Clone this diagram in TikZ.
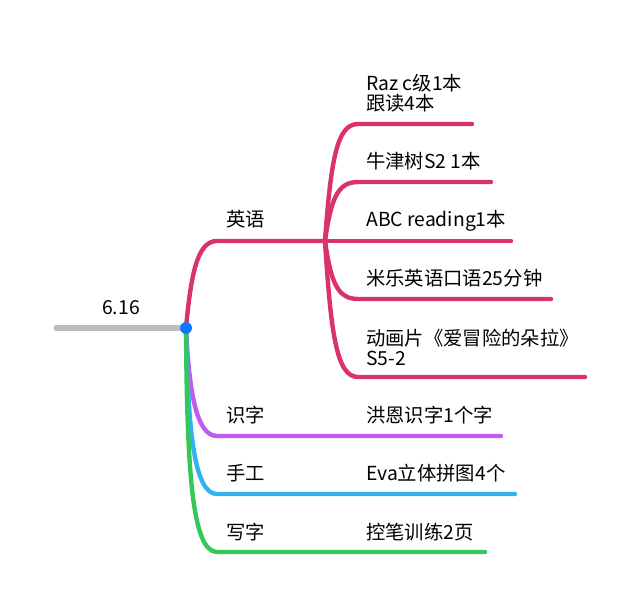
\documentclass[tikz,border=0pt]{standalone}
\usepackage{fontspec}
\setmainfont{Noto Sans CJK SC}
\definecolor{rootgray}{RGB}{190,190,190}
\definecolor{dotblue}{RGB}{12,122,255}
\definecolor{enpink}{RGB}{216,51,106}
\definecolor{shipurple}{RGB}{191,90,242}
\definecolor{craftcyan}{RGB}{50,178,240}
\definecolor{writegreen}{RGB}{52,199,89}

\begin{document}
\begin{tikzpicture}[x=0.75pt, y=-0.75pt,
  bough/.style={line width=3.3pt, line cap=round},
  leaf/.style={anchor=base west, inner sep=0pt, align=left, font=\fontsize{14.5}{15}\selectfont}]
  \useasboundingbox (0,0) rectangle (640,610);
  \coordinate (start) at (56,328);
  \coordinate (hub) at (186,328);
  \coordinate (fork) at (325,241);
  \node[leaf, anchor=base] (date) at (121,314) {6.16};
  \node[leaf] (english) at (226,227) {英语};
  \node[leaf] (literacy) at (226,422) {识字};
  \node[leaf] (craft) at (226,480.5) {手工};
  \node[leaf] (writing) at (226,539) {写字};
  \node[leaf] (raz) at (366,110.5) {Raz c级1本\\跟读4本};
  \node[leaf] (oxford) at (366,168.5) {牛津树S2 1本};
  \node[leaf] (abc) at (366,227) {ABC reading1本};
  \node[leaf] (mile) at (366,286) {米乐英语口语25分钟};
  \node[leaf] (cartoon) at (366,365) {动画片《爱冒险的朵拉》\\S5-2};
  \node[leaf] (hongen) at (366,422) {洪恩识字1个字};
  \node[leaf] (eva) at (366,480.5) {Eva立体拼图4个};
  \node[leaf] (pen) at (366,539) {控笔训练2页};
  \draw[bough, rootgray, line width=3.8pt] (start) -- (hub);
  \draw[bough, enpink] (hub) .. controls (191,275) and (197,241) .. (217,241) -- (fork);
  \foreach \y/\xe in {124/472, 182/491, 241/511, 299/551, 377/585}
    \draw[bough, enpink] (fork) .. controls (331,{241+0.7*(\y-241)}) and (337,\y) .. (358,\y) -- (\xe,\y);
  \draw[bough, shipurple] (hub) .. controls (189,390) and (196,436) .. (217,436) -- (501,436);
  \draw[bough, craftcyan] (hub) .. controls (188,430) and (194,494) .. (217,494) -- (515,494);
  \draw[bough, writegreen] (hub) .. controls (187,470) and (192,552) .. (217,552) -- (485,552);
  \node[circle, fill=dotblue, inner sep=0pt, minimum size=9pt] (root) at (hub) {};
\end{tikzpicture}
\end{document}
